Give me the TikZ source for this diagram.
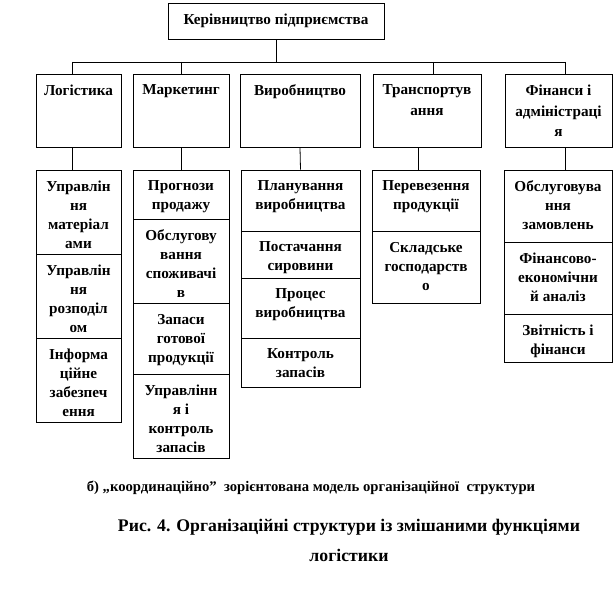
\documentclass[tikz,border=0pt]{standalone}
\usepackage{fontspec}
\setmainfont{Liberation Serif}
\usetikzlibrary{fit}

\begin{document}
\begin{tikzpicture}[x = 0.75pt, y = -0.75pt, line width = 0.6pt,
  every node/.style={font=\bfseries\fontsize{11.4}{14.25}\selectfont},
  box/.style={draw, inner sep=0pt},
  txt/.style={anchor=north, align=center, inner sep=0pt, yshift=-8.25pt},
  head/.style={txt, font=\bfseries\fontsize{11.4}{15.4}\selectfont},
  captxt/.style={align=center, inner sep=0pt}]

  \useasboundingbox (0, 0) rectangle (615, 591);

  % top
  \node[box, fit={(168, 3) (384, 39)}] (top) {};
  \node[inner sep=0pt] (topt) at (top.center) {Керівництво підприємства};

  % departments
  \node[box, fit={( 36, 74) (121, 147)}] (log) {};
  \node[head] (logt) at (log.north) {Логістика};

  \node[box, fit={(133, 74) (229, 147)}] (mar) {};
  \node[head] (mart) at (mar.north) {Маркетинг};

  \node[box, fit={(240, 74) (360, 147)}] (vyr) {};
  \node[head] (vyrt) at (vyr.north) {Виробництво};

  \node[box, fit={(373, 74) (481, 147)}] (tra) {};
  \node[head] (trat) at (tra.north) {Транспортув\\ання};

  \node[box, fit={(505, 74) (612, 147)}] (fin) {};
  \node[head] (fint) at (fin.north) {Фінанси і\\адміністраці\\я};

  % bus
  \coordinate (bus1) at ( 72, 62);
  \coordinate (bus2) at (181, 62);
  \coordinate (bus4) at (433, 62);
  \coordinate (bus5) at (565, 62);
  \coordinate (traD) at (418, 160);

  \draw (top.south) -- (top.south |- bus1);
  \draw (bus1) -- (bus5);
  \draw (bus1) -- (bus1 |- log.north);
  \draw (bus2) -- (bus2 |- mar.north);
  \draw (bus4) -- (bus4 |- tra.north);
  \draw (bus5) -- (bus5 |- fin.north);

  % Logistics
  \node[box, fit={( 36, 170) (121, 254)}] (logA) {};
  \node[txt] (logAt) at (logA.north) {Управлін\\ня\\матеріал\\ами};
  \node[box, fit={( 36, 254) (121, 338)}] (logB) {};
  \node[txt] (logBt) at (logB.north) {Управлін\\ня\\розподіл\\ом};
  \node[box, fit={( 36, 338) (121, 422)}] (logC) {};
  \node[txt] (logCt) at (logC.north) {Інформа\\ційне\\забезпеч\\ення};

  % Marketing
  \node[box, fit={(133, 170) (229, 219)}] (marA) {};
  \node[txt] (marAt) at (marA.north) {Прогнози\\продажу};
  \node[box, fit={(133, 219) (229, 303)}] (marB) {};
  \node[txt] (marBt) at (marB.north) {Обслугову\\вання\\споживачі\\в};
  \node[box, fit={(133, 303) (229, 374)}] (marC) {};
  \node[txt] (marCt) at (marC.north) {Запаси\\готової\\продукції};
  \node[box, fit={(133, 374) (229, 458)}] (marD) {};
  \node[txt] (marDt) at (marD.north) {Управлінн\\я і\\контроль\\запасів};

  % Production
  \node[box, fit={(241, 170) (360, 231)}] (vyrA) {};
  \node[txt] (vyrAt) at (vyrA.north) {Планування\\виробництва};
  \node[box, fit={(241, 231) (360, 278)}] (vyrB) {};
  \node[txt] (vyrBt) at (vyrB.north) {Постачання\\сировини};
  \node[box, fit={(241, 278) (360, 338)}] (vyrC) {};
  \node[txt] (vyrCt) at (vyrC.north) {Процес\\виробництва};
  \node[box, fit={(241, 338) (360, 387)}] (vyrD) {};
  \node[txt] (vyrDt) at (vyrD.north) {Контроль\\запасів};

  % Transport
  \node[box, fit={(372, 170) (480, 231)}] (traA) {};
  \node[txt] (traAt) at (traA.north) {Перевезення\\продукції};
  \node[box, fit={(372, 231) (480, 303)}] (traB) {};
  \node[txt] (traBt) at (traB.north) {Складське\\господарств\\о};

  % Finance
  \node[box, fit={(504, 170) (612, 242)}] (finA) {};
  \node[txt] (finAt) at (finA.north) {Обслуговува\\ння\\замовлень};
  \node[box, fit={(504, 242) (612, 314)}] (finB) {};
  \node[txt] (finBt) at (finB.north) {Фінансово-\\економічни\\й аналіз};
  \node[box, fit={(504, 314) (612, 362)}] (finC) {};
  \node[txt] (finCt) at (finC.north) {Звітність і\\фінанси};

  % down links
  \draw (bus1 |- log.south) -- (bus1 |- logA.north);
  \draw (bus2 |- mar.south) -- (bus2 |- marA.north);
  \draw (vyr.south) -- (vyrA.north);
  \draw (traD |- tra.south) -- (traD |- traA.north);
  \draw (bus5 |- fin.south) -- (bus5 |- finA.north);

  % captions
  \node[captxt, font=\bfseries\fontsize{11}{14}\selectfont] (capA) at (311, 488)
    {б) „координаційно”\ \ зорієнтована модель організаційної\ \ структури};
  \node[captxt, font=\bfseries\fontsize{13.3}{22.5}\selectfont] (capB) at (349, 540)
    {Рис. 4. Організаційні структури із змішаними функціями\\логістики};

\end{tikzpicture}
\end{document}
